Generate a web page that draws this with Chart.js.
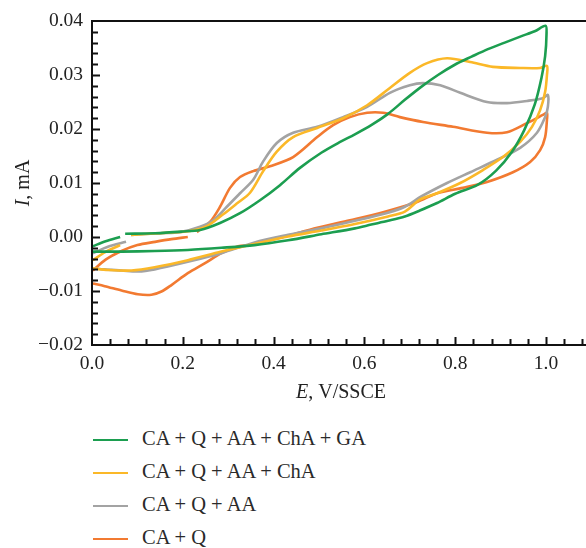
<!DOCTYPE html>
<html>
<head>
<meta charset="utf-8">
<script src="https://cdn.jsdelivr.net/npm/chart.js@4.4.0/dist/chart.umd.min.js"></script>
<style>
  body { margin: 0; background: #fff; }
  #wrap { position: relative; width: 586px; height: 548px; }
  #cv { position: absolute; left: 0; top: 0; }
  #legend { position: absolute; left: 0; top: 423px; font-family: 'Liberation Serif', 'DejaVu Serif', serif; font-size: 20.5px; color: #2a2a2a; }
  .row { position: relative; height: 33px; width: 586px; }
  .row span.ln { position: absolute; left: 93px; top: 16px; width: 35px; height: 2px; }
  .row span.tx { position: absolute; left: 142px; top: 4px; white-space: nowrap; }
</style>
</head>
<body>
<div id="wrap">
  <canvas id="cv" width="586" height="410"></canvas>
  <div id="legend"></div>
</div>
<script>
(() => {
  const labels = ['CA + Q + AA + ChA + GA', 'CA + Q + AA + ChA', 'CA + Q + AA', 'CA + Q'];
  const colors = ['#1c9e50', '#fbb828', '#a3a3a3', '#f27a31'];

  const yTicks = [-0.02, -0.01, 0.00, 0.01, 0.02, 0.03, 0.04];
  const xTicks = [0.0, 0.2, 0.4, 0.6, 0.8, 1.0];

  // CA + Q + AA + ChA + GA
  const gaX = [0.002, 0.03, 0.062, null, 0.073, 0.139, 0.197, 0.238, 0.282, 0.326, 0.370, 0.414, 0.458, 0.505, 0.542, 0.579, 0.615, 0.652, 0.689, 0.725, 0.762, 0.799, 0.836, 0.872, 0.909, 0.946, 0.975, 0.999,
               1.001, 0.998, 0.990, 0.975, 0.952, 0.925, 0.890, 0.850, 0.800, 0.760, 0.722, 0.689, 0.652, 0.615, 0.579, 0.505, 0.432, 0.358, 0.285, 0.211, 0.138, 0.065, 0.002];
  const gaY = [-0.0017, -0.0008, 0.0000, null, 0.0006, 0.0007, 0.0010, 0.0013, 0.0026, 0.0044, 0.0068, 0.0096, 0.0128, 0.0156, 0.0174, 0.0190, 0.0207, 0.0228, 0.0254, 0.0278, 0.0300, 0.0319, 0.0334, 0.0348, 0.0360, 0.0372, 0.0381, 0.0391,
               0.0375, 0.0335, 0.0295, 0.0245, 0.0198, 0.0158, 0.0123, 0.0097, 0.0080, 0.0063, 0.0049, 0.0038, 0.0030, 0.0023, 0.0016, 0.0005, -0.0006, -0.0015, -0.0020, -0.0024, -0.0026, -0.0027, -0.0027];

  // CA + Q + AA + ChA
  const chaX = [0.002, 0.029, 0.062, null, 0.086, 0.150, 0.216, 0.253, 0.289, 0.319, 0.348, 0.377, 0.407, 0.443, 0.496, 0.553, 0.606, 0.656, 0.700, 0.738, 0.782, 0.833, 0.883, 0.943, 0.987, 1.002,
                1.002, 0.998, 0.987, 0.969, 0.943, 0.905, 0.861, 0.811, 0.760, 0.722, 0.689, 0.652, 0.579, 0.505, 0.432, 0.358, 0.285, 0.211, 0.138, 0.087, 0.035, 0.002];
  const chaY = [-0.0043, -0.0028, -0.0015, null, 0.0004, 0.0007, 0.0011, 0.0020, 0.0042, 0.0062, 0.0082, 0.0122, 0.0158, 0.0185, 0.0202, 0.0220, 0.0244, 0.0276, 0.0304, 0.0322, 0.0331, 0.0324, 0.0315, 0.0313, 0.0313, 0.0317,
                0.0300, 0.0269, 0.0235, 0.0204, 0.0176, 0.0148, 0.0124, 0.0100, 0.0081, 0.0069, 0.0047, 0.0038, 0.0024, 0.0012, 0.0001, -0.0013, -0.0027, -0.0043, -0.0056, -0.0062, -0.0061, -0.0058];

  // CA + Q + AA
  const aaX = [0.002, 0.035, 0.075, null, 0.086, 0.150, 0.194, 0.238, 0.267, 0.297, 0.326, 0.355, 0.377, 0.407, 0.443, 0.496, 0.553, 0.606, 0.656, 0.700, 0.729, 0.767, 0.811, 0.870, 0.914, 0.958, 0.993, 1.004,
               1.004, 0.998, 0.980, 0.943, 0.892, 0.833, 0.782, 0.725, 0.689, 0.652, 0.579, 0.505, 0.432, 0.358, 0.285, 0.211, 0.138, 0.101, 0.065, 0.028, 0.002];
  const aaY = [-0.0030, -0.0018, -0.0009, null, 0.0004, 0.0007, 0.0009, 0.0019, 0.0031, 0.0056, 0.0081, 0.0106, 0.0140, 0.0174, 0.0193, 0.0204, 0.0222, 0.0241, 0.0267, 0.0281, 0.0285, 0.0281, 0.0267, 0.0250, 0.0248, 0.0252, 0.0257, 0.0263,
               0.0241, 0.0222, 0.0193, 0.0165, 0.0143, 0.0120, 0.0100, 0.0075, 0.0056, 0.0045, 0.0030, 0.0016, 0.0004, -0.0010, -0.0030, -0.0046, -0.0060, -0.0064, -0.0062, -0.0060, -0.0058];

  // CA + Q
  const qX = [0.002, 0.030, 0.065, 0.100, 0.139, 0.175, 0.211, null, 0.231, 0.260, 0.282, 0.304, 0.326, 0.355, 0.392, 0.443, 0.496, 0.531, 0.568, 0.606, 0.641, 0.678, 0.729, 0.795, 0.870, 0.914, 0.958, 0.993, 1.002,
              1.002, 0.998, 0.987, 0.965, 0.927, 0.870, 0.817, 0.760, 0.716, 0.641, 0.568, 0.496, 0.421, 0.348, 0.322, 0.285, 0.248, 0.211, 0.175, 0.153, 0.131, 0.101, 0.065, 0.028, 0.002];
  const qY = [-0.0062, -0.0042, -0.0026, -0.0015, -0.0009, -0.0004, 0.0000, null, 0.0009, 0.0028, 0.0056, 0.0091, 0.0111, 0.0122, 0.0131, 0.0148, 0.0185, 0.0207, 0.0222, 0.0230, 0.0230, 0.0222, 0.0213, 0.0204, 0.0193, 0.0194, 0.0211, 0.0226, 0.0230,
              0.0217, 0.0185, 0.0161, 0.0139, 0.0120, 0.0102, 0.0091, 0.0081, 0.0065, 0.0046, 0.0031, 0.0017, 0.0000, -0.0015, -0.0017, -0.0030, -0.0049, -0.0067, -0.0089, -0.0101, -0.0107, -0.0106, -0.0099, -0.0091, -0.0086];

  const seriesX = [gaX, chaX, aaX, qX];
  const seriesY = [gaY, chaY, aaY, qY];

  const serif = "'Liberation Serif', 'DejaVu Serif', serif";
  const fmt = (v, d) => {
    const s = Math.abs(v).toFixed(d);
    return v < -1e-9 ? '\u2212' + s : s;
  };

  const datasets = labels.map((lab, i) => ({
    label: lab,
    data: seriesX[i].map((x, j) => ({ x: x, y: seriesY[i][j] })),
    borderColor: colors[i],
    borderWidth: 2.6,
    pointRadius: 0,
    showLine: true,
    tension: 0.3,
    spanGaps: false
  }));

  // inward tick marks and the frame lines
  const frame = {
    id: 'frame',
    afterDraw(chart) {
      const { ctx, chartArea: a, scales } = chart;
      ctx.save();
      ctx.strokeStyle = '#111';
      ctx.lineWidth = 2;
      ctx.beginPath();
      ctx.moveTo(a.left, a.top);
      ctx.lineTo(chart.width, a.top);
      ctx.moveTo(a.left, a.top - 1);
      ctx.lineTo(a.left, a.bottom + 1);
      ctx.moveTo(a.left - 1, a.bottom);
      ctx.lineTo(chart.width, a.bottom);
      ctx.stroke();
      ctx.beginPath();
      for (let k = 1; k < 30; k++) {
        const v = -0.02 + k * 0.002;
        if (v > 0.0399) break;
        const py = Math.round(scales.y.getPixelForValue(v)) + 0.5;
        const len = (k % 5 === 0) ? 8 : 6;
        ctx.moveTo(a.left, py);
        ctx.lineTo(a.left + len, py);
      }
      for (let k = 1; k < 40; k++) {
        const v = k * 0.04;
        if (v > scales.x.max) break;
        const px = Math.round(scales.x.getPixelForValue(v)) + 0.5;
        const len = (k % 5 === 0) ? 8 : 6;
        ctx.moveTo(px, a.bottom);
        ctx.lineTo(px, a.bottom - len);
      }
      ctx.stroke();

      // axis titles with italic symbol
      ctx.fillStyle = '#222';
      ctx.textBaseline = 'middle';
      ctx.textAlign = 'left';
      const it = 'italic 20px ' + serif;
      const rm = '20px ' + serif;
      ctx.font = it; const w1 = ctx.measureText('E').width;
      ctx.font = rm; const w2 = ctx.measureText(', V/SSCE').width;
      let x0 = (a.left + a.right) / 2 - (w1 + w2) / 2 + 2;
      ctx.font = it; ctx.fillText('E', x0, 393);
      ctx.font = rm; ctx.fillText(', V/SSCE', x0 + w1, 393);

      ctx.translate(24, (a.top + a.bottom) / 2);
      ctx.rotate(-Math.PI / 2);
      ctx.font = it; const v1 = ctx.measureText('I').width;
      ctx.font = rm; const v2 = ctx.measureText(', mA').width;
      x0 = -(v1 + v2) / 2;
      ctx.font = it; ctx.fillText('I', x0, 0);
      ctx.font = rm; ctx.fillText(', mA', x0 + v1, 0);
      ctx.restore();
    }
  };

  const cv = document.getElementById('cv');
  new Chart(cv, {
    type: 'scatter',
    data: { datasets: datasets },
    options: {
      responsive: false,
      animation: false,
      layout: { padding: { top: 21, right: 0, left: 0, bottom: 0 } },
      plugins: { legend: { display: false }, tooltip: { enabled: false } },
      scales: {
        x: {
          type: 'linear',
          min: 0,
          max: 1.088,
          afterFit(s) { s.height = 65; },
          afterBuildTicks(s) { s.ticks = xTicks.map(v => ({ value: v })); },
          grid: { display: false, drawTicks: false },
          border: { display: false },
          ticks: {
            padding: 7,
            color: '#222',
            font: { family: serif, size: 19.5 },
            maxRotation: 0,
            callback: (v) => fmt(v, 1)
          }
        },
        y: {
          type: 'linear',
          min: -0.02,
          max: 0.04,
          afterFit(s) { s.width = 92; },
          afterBuildTicks(s) { s.ticks = yTicks.map(v => ({ value: v })); },
          grid: { display: false, drawTicks: false },
          border: { display: false },
          ticks: {
            padding: 9,
            color: '#222',
            font: { family: serif, size: 19.5 },
            callback: (v) => fmt(v, 2)
          }
        }
      }
    },
    plugins: [frame]
  });

  const lg = document.getElementById('legend');
  labels.forEach((lab, i) => {
    const row = document.createElement('div');
    row.className = 'row';
    row.innerHTML = '<span class="ln" style="background:' + colors[i] + '"></span><span class="tx">' + lab + '</span>';
    lg.appendChild(row);
  });
})();
</script>
</body>
</html>
